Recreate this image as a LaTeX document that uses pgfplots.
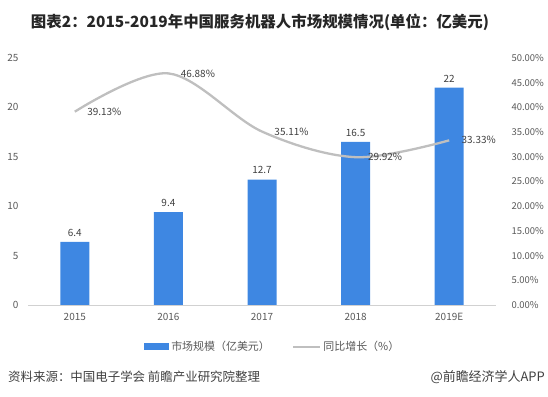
\documentclass[border=0pt]{standalone}
\usepackage{pgfplots}
\pgfplotsset{compat=1.18}
\usepackage{fontspec}
\setmainfont{Noto Sans CJK SC}
\definecolor{barblue}{RGB}{62,135,226}
\definecolor{linegray}{RGB}{191,191,191}
\definecolor{txt}{RGB}{89,89,89}
\definecolor{lab}{RGB}{64,64,64}
\begin{document}
\begin{tikzpicture}
\useasboundingbox (0,0) rectangle (548bp,397bp);
\begin{axis}[
  at={(28bp,92bp)}, anchor=south west, scale only axis,
  width=468bp, height=247bp,
  xmin=-0.5, xmax=4.5, ymin=0, ymax=25,
  ytick={0,5,...,25}, xtick={0,1,2,3,4},
  xticklabels={2015,2016,2017,2018,2019E},
  axis x line*=bottom, axis y line*=left,
  y axis line style={draw=none},
  x axis line style={color=black!18, line width=0.8bp},
  tick style={draw=none}, major tick length=0pt,
  /pgf/number format/assume math mode=true,
  ticklabel style={font=\fontsize{10}{12}\selectfont, text=txt},
  yticklabel style={xshift=-6bp},
  xticklabel style={yshift=-5bp},
  legend style={at={(0.523,-0.17)}, anchor=center, draw=none, legend columns=2,
    font=\fontsize{11}{13}\selectfont, text=txt,
    /tikz/every even column/.append style={column sep=20bp}},
  clip=false,
]
\addplot[ybar, bar width=29bp, fill=barblue, draw=none,
  nodes near coords, nodes near coords style={font=\fontsize{10}{12}\selectfont, text=lab, yshift=2bp},
  legend image code/.code={\fill[barblue] (0bp,-3.5bp) rectangle (25bp,3.5bp);}]
  coordinates {(0,6.4) (1,9.4) (2,12.7) (3,16.5) (4,22)};
\addlegendentry{市场规模（亿美元）}
\addlegendimage{linegray, line width=2.5bp, legend image code/.code={\draw[linegray, line width=2.5bp] (0bp,0bp) -- (27bp,0bp);}}
\addlegendentry{同比增长（\%）}
\end{axis}
\begin{axis}[
  at={(28bp,92bp)}, anchor=south west, scale only axis,
  width=468bp, height=247bp,
  xmin=-0.5, xmax=4.5, ymin=0, ymax=0.5,
  ytick={0,0.05,...,0.51},
  yticklabel={\pgfmathparse{\tick*100}\pgfmathprintnumber[fixed,fixed zerofill,precision=2]{\pgfmathresult}\%},
  axis x line=none, axis y line*=right,
  y axis line style={draw=none},
  tick style={draw=none}, major tick length=0pt,
  /pgf/number format/assume math mode=true,
  ticklabel style={font=\fontsize{9.5}{11}\selectfont, text=txt},
  yticklabel style={xshift=12bp},
  clip=false,
]
\addplot[linegray, line width=2.3bp, smooth, tension=0.55, mark=none,
  point meta=explicit symbolic,
  nodes near coords, nodes near coords style={anchor=west, xshift=8bp, yshift=0bp, font=\fontsize{10}{12}\selectfont, text=lab}]
  coordinates {(0,0.3913)[39.13\%] (1,0.4688)[46.88\%] (2,0.3511)[35.11\%] (3,0.2992)[29.92\%] (4,0.3333)[33.33\%]};
\end{axis}
\node[font=\bfseries\fontsize{15.5}{18}\selectfont, text=black!85] at (260bp,375bp) {图表2：2015-2019年中国服务机器人市场规模情况(单位：亿美元)};
\node[anchor=west, font=\fontsize{12.5}{14}\selectfont, text=black!75, inner sep=0pt] at (8bp,20bp) {资料来源：中国电子学会 前瞻产业研究院整理};
\node[anchor=east, font=\fontsize{13}{15}\selectfont, text=black!75, inner sep=0pt] at (545bp,20bp) {@前瞻经济学人APP};
\end{tikzpicture}
\end{document}
